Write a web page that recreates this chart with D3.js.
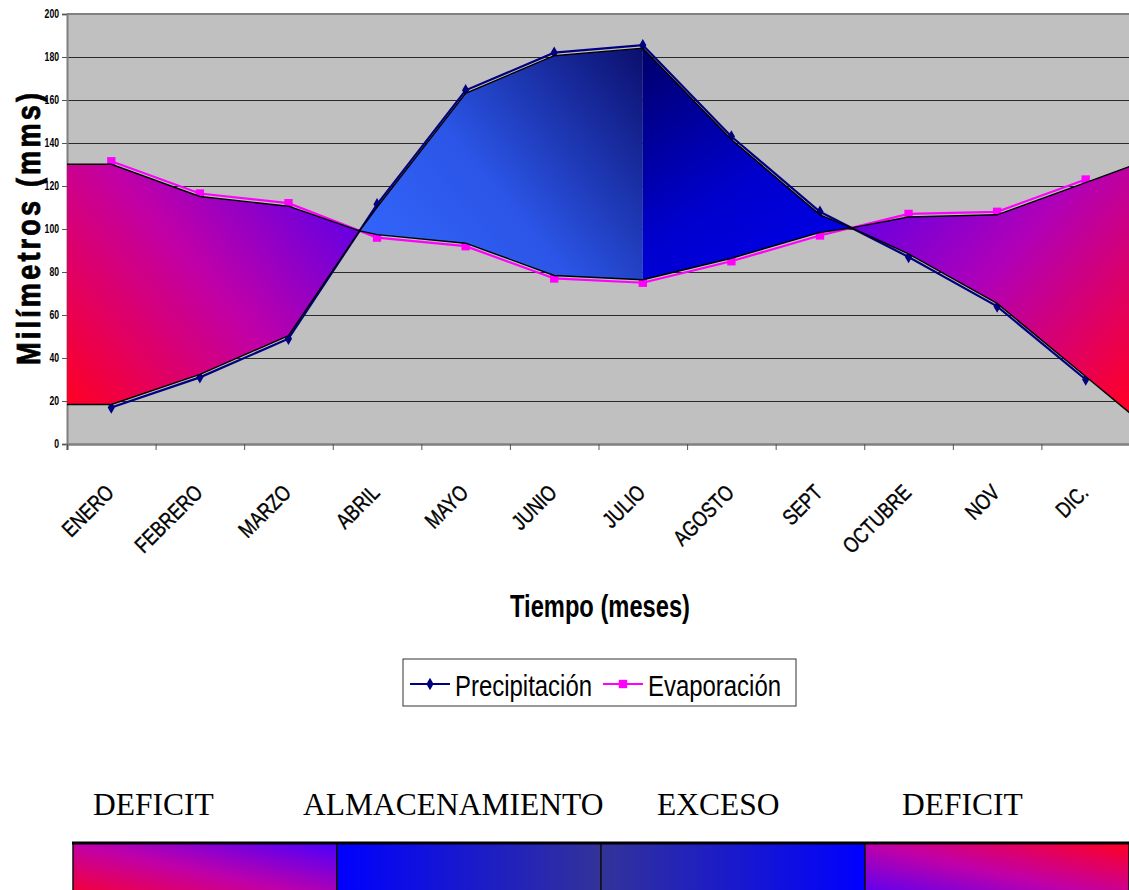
<!DOCTYPE html>
<html>
<head>
<meta charset="utf-8">
<script src="https://cdn.jsdelivr.net/npm/d3@7"></script>
<style>
  body { margin: 0; background: #fff; }
  svg { display: block; }
</style>
</head>
<body>
<svg id="chart" width="1129" height="890"></svg>
<script>
// data
const months = ["ENERO", "FEBRERO", "MARZO", "ABRIL", "MAYO", "JUNIO", "JULIO", "AGOSTO", "SEPT", "OCTUBRE", "NOV", "DIC."];
const precip = [17, 31, 49, 111.5, 164.5, 182, 185.5, 143, 108, 87, 64, 30];
const evap = [131.5, 116.5, 112, 96, 92, 77, 75, 85, 97, 107, 108, 123];
const yTicks = [0, 20, 40, 60, 80, 100, 120, 140, 160, 180, 200];
const seriesNames = ["Precipitación", "Evaporación"];
const regionNames = ["DEFICIT", "ALMACENAMIENTO", "EXCESO", "DEFICIT"];
const splitMonth = "JULIO"; // almacenamiento | exceso

// layout
const plotL = 67, plotR = 1130, plotT = 14, plotB = 444;
const regionLabelX = [93, 303, 657, 902];
const sans = "'Liberation Sans', Arial, sans-serif";
const serif = "'Liberation Serif', 'Times New Roman', serif";

const svg = d3.select("#chart");
const defs = svg.append("defs");

const xi = d3.scaleLinear().domain([0, months.length]).range([plotL, plotR]);
const y = d3.scaleLinear().domain([0, 200]).range([plotB, plotT]);

// squeeze text to look like Arial Narrow
function narrow(sel, f) {
  sel.each(function () {
    const w = this.getComputedTextLength();
    d3.select(this).attr("textLength", w * f).attr("lengthAdjust", "spacingAndGlyphs");
  });
}

// plot background
svg.append("rect")
  .attr("x", plotL).attr("y", plotT)
  .attr("width", plotR - plotL).attr("height", plotB - plotT)
  .attr("fill", "#c0c0c0");

// gridlines
svg.append("g")
  .attr("transform", `translate(${plotL},0)`)
  .call(d3.axisLeft(y).tickValues(yTicks).tickSize(-(plotR - plotL)).tickFormat(""))
  .call(g => g.select(".domain").remove())
  .call(g => g.selectAll(".tick line").attr("stroke", "#2a2a2a").attr("stroke-width", 1.1));

svg.append("line")
  .attr("x1", plotL).attr("x2", plotR).attr("y1", plotT).attr("y2", plotT)
  .attr("stroke", "#808080").attr("stroke-width", 2);

// y axis
const yAxis = svg.append("g")
  .attr("transform", `translate(${plotL},0)`)
  .call(d3.axisLeft(y).tickValues(yTicks).tickSize(5).tickPadding(3))
  .call(g => g.select(".domain").attr("stroke", "#808080").attr("stroke-width", 2))
  .call(g => g.selectAll(".tick line").attr("stroke", "#555"));
yAxis.selectAll(".tick text")
  .attr("font-family", sans).attr("font-size", 12).attr("font-weight", "bold").attr("fill", "#000")
  .call(narrow, 0.72);

// x axis (ticks between categories)
svg.append("g")
  .attr("transform", `translate(0,${plotB})`)
  .call(d3.axisBottom(xi).tickValues(d3.range(0, months.length + 1)).tickSize(6).tickFormat(""))
  .call(g => g.select(".domain").attr("stroke", "#808080").attr("stroke-width", 2.5))
  .call(g => g.selectAll(".tick line").attr("stroke", "#555"));

// month points, plus edge points and crossings for the filled regions
const n = months.length;
const pts = months.map((m, i) => ({ m, x: xi(i + 0.5), p: precip[i], e: evap[i] }));
const tEnd = (xi(n) - pts[n - 1].x) / (pts[n - 1].x - pts[n - 2].x);
const aug = [{ x: xi(0), p: precip[0], e: evap[0] }];
pts.forEach((d, i) => {
  if (i > 0) {
    const a = pts[i - 1];
    const da = a.p - a.e, db = d.p - d.e;
    if (da * db < 0) {
      const f = da / (da - db);
      aug.push({ x: a.x + f * (d.x - a.x), p: a.p + f * (d.p - a.p), e: a.e + f * (d.e - a.e), cross: true });
    }
  }
  aug.push(d);
});
aug.push({
  x: xi(n),
  p: precip[n - 1] + (precip[n - 1] - precip[n - 2]) * tEnd,
  e: evap[n - 1] + (evap[n - 1] - evap[n - 2]) * tEnd
});

const inset = 3;
aug.forEach(d => {
  let t = Math.min(y(d.p), y(d.e)), b = Math.max(y(d.p), y(d.e));
  if (b - t > 2 * inset) { t += inset; b -= inset; } else { t = b = (t + b) / 2; }
  d.top = t; d.bot = b;
});

const crossX = aug.filter(d => d.cross).map(d => d.x);
const splitI = months.indexOf(splitMonth);
const splitX = xi(splitI + 0.5);

// gradients
function grad(id, x1, y1, x2, y2, stops) {
  const g = defs.append("linearGradient").attr("id", id)
    .attr("gradientUnits", "userSpaceOnUse")
    .attr("x1", x1).attr("y1", y1).attr("x2", x2).attr("y2", y2);
  stops.forEach(([o, c]) => g.append("stop").attr("offset", o).attr("stop-color", c));
}
grad("gDefL", xi(0), y(precip[0]), crossX[0], y(evap[0]),
  [[0, "#ff0022"], [0.5, "#c000a8"], [1, "#4a00f4"]]);
grad("gAlm", crossX[0], y(evap[splitI]), splitX, y(precip[splitI]),
  [[0, "#3468ff"], [0.45, "#2b55e6"], [1, "#0b0e6c"]]);
grad("gExc", splitX, y(precip[splitI]), splitX + 150, y(evap[splitI]),
  [[0, "#000068"], [0.6, "#0000cc"], [1, "#0000e8"]]);
grad("gDefR", crossX[1], y(evap[n - 1]) - 30, xi(n), y(precip[n - 1]) + 20,
  [[0, "#4c00f0"], [0.5, "#b000b8"], [1, "#ff0028"]]);

const sections = [
  [xi(0), crossX[0], "gDefL"],
  [crossX[0], splitX, "gAlm"],
  [splitX, crossX[1], "gExc"],
  [crossX[1], xi(n), "gDefR"]
];

// series lines (under the shaded shapes)
const lineP = d3.line().x(d => d.x).y(d => y(d.p));
const lineE = d3.line().x(d => d.x).y(d => y(d.e));
svg.append("path").attr("d", lineE(pts)).attr("fill", "none").attr("stroke", "#ff00ff").attr("stroke-width", 2.2);
svg.append("path").attr("d", lineP(pts)).attr("fill", "none").attr("stroke", "#000080").attr("stroke-width", 2.2);
svg.append("g").selectAll("path").data(pts).join("path")
  .attr("transform", d => `translate(${d.x},${y(d.e)})`)
  .attr("d", d3.symbol(d3.symbolSquare, 70)).attr("fill", "#ff00ff");
svg.append("g").selectAll("path").data(pts).join("path")
  .attr("transform", d => `translate(${d.x},${y(d.p)})`)
  .attr("d", d3.symbol(d3.symbolDiamond, 45)).attr("fill", "#000080");

// shaded regions
const area = d3.area().x(d => d.x).y0(d => d.bot).y1(d => d.top);
sections.forEach(([a, b, id], i) => {
  defs.append("clipPath").attr("id", "clip" + i)
    .append("rect").attr("x", a).attr("y", 0).attr("width", b - a).attr("height", plotB);
  svg.append("path")
    .attr("d", area(aug))
    .attr("clip-path", `url(#clip${i})`)
    .attr("fill", `url(#${id})`);
});
const edge = key => d3.line().x(d => d.x).y(d => d[key]);
["top", "bot"].forEach(k =>
  svg.append("path").attr("d", edge(k)(aug)).attr("fill", "none")
    .attr("stroke", "#000").attr("stroke-width", 1.4));

// month labels
svg.append("g").selectAll("text").data(pts).join("text")
  .attr("transform", d => `translate(${d.x + 4},${plotB + 50}) rotate(-45)`)
  .attr("text-anchor", "end")
  .attr("font-family", sans).attr("font-size", 22)
  .attr("stroke", "#000").attr("stroke-width", 0.4)
  .text(d => d.m)
  .call(narrow, 0.8);

// axis titles
svg.append("text")
  .attr("transform", `translate(40,229) rotate(-90) scale(0.8,1)`)
  .attr("text-anchor", "middle")
  .attr("font-family", sans).attr("font-size", 34).attr("font-weight", "bold")
  .attr("stroke", "#000").attr("stroke-width", 0.8)
  .attr("textLength", 272 / 0.8).attr("lengthAdjust", "spacing")
  .text("Milímetros (mms)");
svg.append("text")
  .attr("x", 600).attr("y", 617)
  .attr("text-anchor", "middle")
  .attr("font-family", sans).attr("font-size", 32).attr("font-weight", "bold")
  .attr("textLength", 180).attr("lengthAdjust", "spacingAndGlyphs")
  .text("Tiempo (meses)");

// legend
const lg = svg.append("g").attr("transform", "translate(403,659)");
lg.append("rect").attr("width", 393).attr("height", 47).attr("fill", "#fff").attr("stroke", "#333").attr("stroke-width", 1);
const legendItems = [
  { name: seriesNames[0], color: "#000080", sym: d3.symbolDiamond, size: 45, x: 7, w: 137 },
  { name: seriesNames[1], color: "#ff00ff", sym: d3.symbolSquare, size: 70, x: 200, w: 133 }
];
legendItems.forEach(it => {
  lg.append("line").attr("x1", it.x).attr("x2", it.x + 40).attr("y1", 25).attr("y2", 25)
    .attr("stroke", it.color).attr("stroke-width", 2.2);
  lg.append("path").attr("transform", `translate(${it.x + 20},25)`)
    .attr("d", d3.symbol(it.sym, it.size)).attr("fill", it.color);
  lg.append("text").attr("x", it.x + 45).attr("y", 37)
    .attr("font-family", sans).attr("font-size", 29)
    .attr("textLength", it.w).attr("lengthAdjust", "spacingAndGlyphs")
    .text(it.name);
});

// region key under the chart
const bx = d3.scaleBand().domain(d3.range(regionNames.length)).range([73, 1129]);
const keyGrads = [
  ["k0", 0, 1, 1, 0, [[0, "#ff0022"], [0.5, "#c000a8"], [1, "#4a00ff"]]],
  ["k1", 0, 0, 1, 0, [[0, "#0000ff"], [1, "#333399"]]],
  ["k2", 0, 0, 1, 0, [[0, "#333399"], [1, "#0000ff"]]],
  ["k3", 0, 1, 1, 0, [[0, "#4a00ff"], [0.5, "#c000a8"], [1, "#ff0022"]]]
];
keyGrads.forEach(([id, x1, y1, x2, y2, stops]) => {
  const g = defs.append("linearGradient").attr("id", id)
    .attr("x1", x1).attr("y1", y1).attr("x2", x2).attr("y2", y2);
  stops.forEach(([o, c]) => g.append("stop").attr("offset", o).attr("stop-color", c));
});
svg.append("g").selectAll("rect").data(regionNames).join("rect")
  .attr("x", (d, i) => bx(i)).attr("y", 843)
  .attr("width", bx.bandwidth()).attr("height", 60)
  .attr("fill", (d, i) => `url(#k${i})`)
  .attr("stroke", "#111").attr("stroke-width", 1.5);
svg.append("line").attr("x1", 72).attr("x2", 1129).attr("y1", 843).attr("y2", 843)
  .attr("stroke", "#000").attr("stroke-width", 3);
svg.append("g").selectAll("text").data(regionNames).join("text")
  .attr("x", (d, i) => regionLabelX[i]).attr("y", 815)
  .attr("font-family", serif).attr("font-size", 31.5)
  .text(d => d);
</script>
</body>
</html>
